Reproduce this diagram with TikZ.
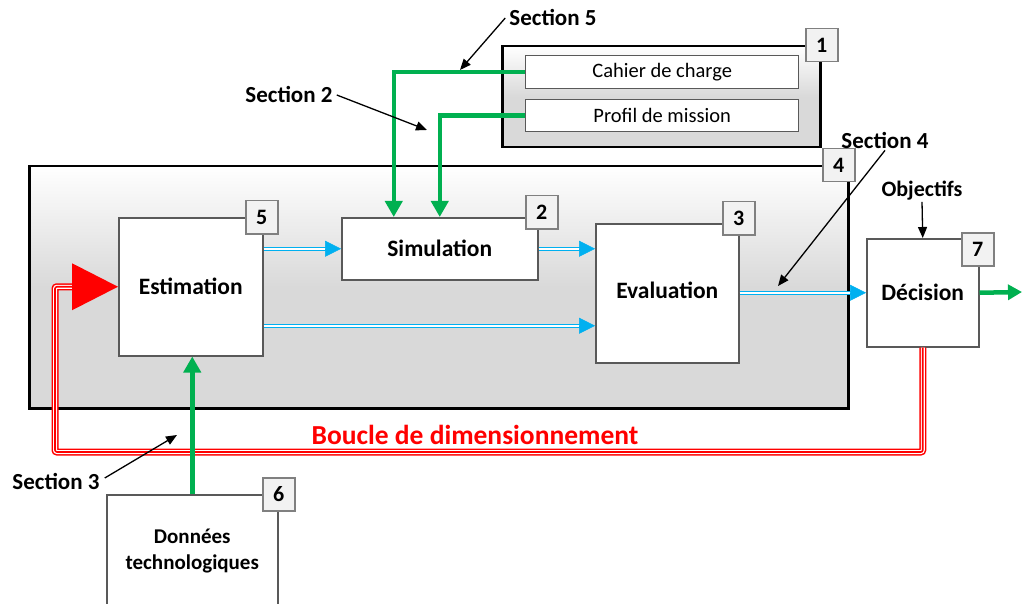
\documentclass[tikz,border=0pt]{standalone}
\usepackage{fontspec}
\setmainfont{Carlito}
\usetikzlibrary{arrows.meta,calc}
\definecolor{grn}{HTML}{00B050}
\definecolor{blu}{HTML}{00B0F0}
\definecolor{rd}{HTML}{FF0000}
\definecolor{bxgray}{HTML}{595959}
\definecolor{shadeg}{HTML}{D9D9D9}
\definecolor{lblfill}{HTML}{F2F2F2}
\definecolor{lbldraw}{HTML}{808080}
\newcommand{\fsz}[1]{\fontsize{#1}{#1}\selectfont}
\tikzset{
  frame/.style={draw=black, line width=2.5pt, top color=white, bottom color=shadeg, middle color=shadeg, anchor=north west, inner sep=0pt},
  blk/.style={draw=bxgray, fill=white, line width=1.5pt, anchor=north west, inner sep=0pt, font=\fsz{23.5}\bfseries},
  inbox/.style={draw=bxgray, fill=white, line width=1.3pt, anchor=north west, inner sep=0pt, font=\fsz{20.5}},
  lbl/.style={draw=lbldraw, fill=lblfill, line width=1.5pt, anchor=north west, inner sep=0pt, minimum width=32pt, minimum height=33pt, font=\fsz{22}\bfseries},
  sect/.style={font=\fsz{23}\bfseries, inner sep=1pt},
  grnline/.style={draw=grn, line width=4.5pt, -{Triangle[length=16pt,width=17pt]}},
  bluline/.style={draw=blu, line width=1.2pt, double=white, double distance=1.6pt},
  blutip/.style={draw=blu, fill=blu, line width=0.5pt, -{Triangle[length=16pt,width=16pt]}},
  blkarrow/.style={draw=black, line width=1.3pt, -{Triangle[length=11pt,width=9pt]}},
  redloop/.style={draw=rd, line width=7pt, rounded corners=2pt,
    postaction={draw=white, line width=4pt},
    postaction={draw=rd, line width=1.6pt}},
}
\begin{document}
\begin{tikzpicture}[x=1pt,y=-1pt]
\useasboundingbox (0,0) rectangle (1022,604);
% frames
\node[frame, minimum width=819pt, minimum height=242pt] (f4) at (28,165) {};
\node[frame, minimum width=318pt, minimum height=101pt] (f1) at (501,45) {};
\node[inbox, minimum width=273pt, minimum height=33pt] (cahier) at (525,55) {Cahier de charge};
\node[inbox, minimum width=273pt, minimum height=32pt] (profil) at (525,99) {Profil de mission};
% blocks
\coordinate (loopBL) at (55,452);
\node[blk, minimum width=144pt, minimum height=138pt] (est) at (118,217) {Estimation};
\node[blk, minimum width=196pt, minimum height=62pt] (sim) at (341,217) {Simulation};
\node[blk, minimum width=143pt, minimum height=139pt, text depth=6pt] (eval) at (595,223) {Evaluation};
\node[blk, minimum width=112pt, minimum height=108pt] (dec) at (866,238) {Décision};
\node[blk, minimum width=171pt, minimum height=112pt] (don) at (106,494) {};
\node[font=\fsz{21}\bfseries, align=center, inner sep=0pt] (dontxt) at ([yshift=-57pt]don.north) {Données\\[5pt]technologiques};
% red loop
\draw[redloop] (dec.south) |- (loopBL) |- ([xshift=-46pt]est.west);
\fill[rd] (est.west) -- ++(-46,23.5) -- ++(0,-47) -- cycle;
% green connectors
\draw[grnline] (cahier.west) -| ([xshift=-46pt]sim.north);
\draw[grnline] (profil.west) -| (sim.north);
\draw[grnline] (don.north) -- (don.north |- est.south);
\coordinate (out) at (1022,292);
\draw[grnline, -{Triangle[length=14pt,width=15pt]}] (dec.east) -- (out);
% blue connectors
\coordinate (e1) at (est.east |- sim.west);
\coordinate (e2) at ([yshift=-39pt]est.east);
\coordinate (v2) at (eval.west |- e2);
\coordinate (v1) at (eval.west |- sim.east);
\coordinate (v3) at (eval.east |- dec.west);
\draw[bluline, shorten >=14pt] (e1) -- (sim.west);
\draw[blutip] ([xshift=-16pt]sim.west) -- (sim.west);
\draw[bluline, shorten >=14pt] (sim.east) -- (v1);
\draw[blutip] ([xshift=-16pt]v1) -- (v1);
\draw[bluline, shorten >=14pt] (e2) -- (v2);
\draw[blutip] ([xshift=-16pt]v2) -- (v2);
\draw[bluline, shorten >=14pt] (v3) -- (dec.west);
\draw[blutip] ([xshift=-16pt]dec.west) -- (dec.west);
% number labels
\node[lbl] (l1) at (805,28) {1};
\node[lbl] (l2) at (525,195) {2};
\node[lbl] (l3) at (722,201) {3};
\node[lbl] (l4) at (822,148) {4};
\node[lbl] (l5) at (245,200) {5};
\node[lbl] (l6) at (262,477) {6};
\node[lbl] (l7) at (961,232) {7};
% section labels
\node[sect] (s5) at (553,18) {Section 5};
\node[sect] (s2) at (289,95) {Section 2};
\node[sect] (s4) at (885,140) {Section 4};
\node[sect] (s3) at (56,481) {Section 3};
\node[sect, font=\fsz{22}\bfseries] (obj) at (922,191) {Objectifs};
\coordinate (t5) at (460,70);
\coordinate (t2) at (427,130);
\coordinate (t4) at (778,286);
\coordinate (t3) at (177,435);
\draw[blkarrow] ([xshift=-3pt]s5.west) -- (t5);
\draw[blkarrow] ([xshift=3pt]s2.east) -- (t2);
\draw[blkarrow] ([yshift=-1pt]s4.south) -- (t4);
\draw[blkarrow] ([xshift=4pt,yshift=3pt]s3.east) -- (t3);
\draw[blkarrow] (obj.south) -- (dec.north);
\node[text=rd, font=\fsz{27.5}\bfseries] (boucle) at (475,435) {Boucle de dimensionnement};
\end{tikzpicture}
\end{document}
